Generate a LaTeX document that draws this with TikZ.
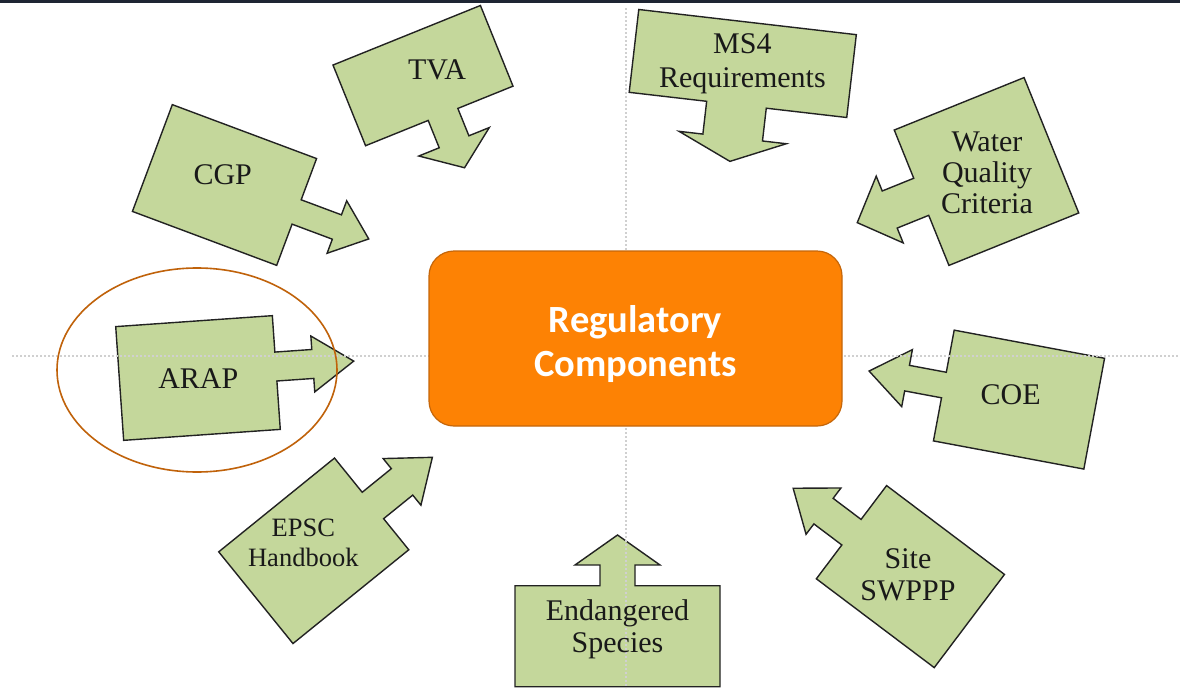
\documentclass[tikz,border=0pt]{standalone}
\usepackage{fontspec}
\setmainfont{Liberation Serif}
\newfontfamily\calib{Carlito}
\definecolor{boxgreen}{HTML}{C4D79B}
\definecolor{edgedark}{HTML}{222222}
\definecolor{orangefill}{HTML}{FD8204}
\definecolor{orangeedge}{HTML}{C5660A}
\definecolor{ringbrown}{HTML}{C0620A}
\definecolor{topbar}{HTML}{1E2533}
\definecolor{guidegray}{HTML}{D0D0D0}
\tikzset{
  greenbox/.style={draw=edgedark, fill=boxgreen, line width=1.4pt, line join=miter},
  lbl/.style={inner sep=0pt, align=center, text=black!90, font=\fontsize{30}{32}\selectfont},
  guide/.style={draw=guidegray, line width=1.6pt, dash pattern=on 2pt off 2pt},
}
% #1 W (along arrow), #2 H, #3 shaft half width, #4 shaft length, #5 head half width, #6 head length, #7 lateral offset
\newcommand\calloutpath[7]{%
  \draw[greenbox] ({-#1/2},{-#2/2}) -- ({#1/2},{-#2/2}) -- ({#1/2},{#7-#3}) -- ({#1/2+#4},{#7-#3})
    -- ({#1/2+#4},{#7-#5}) -- ({#1/2+#4+#6},{#7}) -- ({#1/2+#4},{#7+#5}) -- ({#1/2+#4},{#7+#3})
    -- ({#1/2},{#7+#3}) -- ({#1/2},{#2/2}) -- ({-#1/2},{#2/2}) -- cycle;}
\begin{document}
\begin{tikzpicture}[x=1pt,y=-1pt]
\useasboundingbox (0,0) rectangle (1180,688);
\fill[white] (0,0) rectangle (1180,688);
\fill[topbar] (0,0) rectangle (1180,3);

% green callouts
\begin{scope}[shift={(224.5,185)},rotate=-20.5]\calloutpath{154}{114}{13}{43}{28}{34}{0}\end{scope}
\begin{scope}[shift={(423,75.6)},rotate=-68]\calloutpath{87}{159}{16}{29.5}{38}{28}{-4}\end{scope}
\begin{scope}[shift={(198,378)},rotate=4]\calloutpath{157}{114}{14.5}{37}{28}{41}{-6}\end{scope}
\begin{scope}[shift={(313.75,550.8)},rotate=39]\calloutpath{149}{118}{17}{37.5}{30}{39}{2}\end{scope}
\begin{scope}[shift={(617.5,636.2)},rotate=90]\calloutpath{101}{205}{17.5}{20.7}{42.5}{30}{0}\end{scope}
\begin{scope}[shift={(742.75,63.5)},rotate=-96.6]\calloutpath{83.4}{219}{30}{33}{54}{24}{1.5}\end{scope}
\begin{scope}[shift={(986.5,171.5)},rotate=-158]\calloutpath{140}{146}{20}{34}{36}{35}{1}\end{scope}
\begin{scope}[shift={(1019,399.6)},rotate=-190.6]\calloutpath{153}{112.7}{13}{37.5}{29}{38.6}{0.5}\end{scope}
\begin{scope}[shift={(910.4,576.6)},rotate=-217]\calloutpath{147.6}{116.7}{16}{35}{29}{38}{0}\end{scope}

% guide lines
\draw[guide] (12,356) -- (1180,356);
\draw[guide] (626,8) -- (626,688);

% labels
\node[lbl] (tva) at (437,70) {TVA};
\node[lbl] (cgp) at (222.7,175) {CGP};
\node[lbl] (arap) at (198.3,378.3) {ARAP};
\node[lbl, font=\fontsize{26.5}{30}\selectfont] (epsc) at (303.3,543.3) {EPSC\\Handbook};
\node[lbl] (endsp) at (617.5,629) {Endangered\\Species};
\node[lbl, font=\fontsize{30}{34}\selectfont] (ms4) at (742.4,64) {MS4\\Requirements};
\node[lbl, font=\fontsize{30}{31}\selectfont] (wqc) at (987,173) {Water\\Quality\\Criteria};
\node[lbl] (coe) at (1010.7,395) {COE};
\node[lbl] (swppp) at (908,575) {Site\\SWPPP};

% centre box
\node[draw=orangeedge, fill=orangefill, line width=1.2pt, rounded corners=25pt,
      minimum width=413pt, minimum height=175pt, inner sep=0pt] (reg) at (635.5,338.5) {};
\node[text=white, align=center, inner sep=0pt, font=\calib\bfseries\fontsize{38.5}{44}\selectfont] (regtxt) at (635.5,344) {Regulatory\\Components};

% highlight ring
\draw[ringbrown, line width=1.6pt] (197,370) ellipse [x radius=140, y radius=102];
\end{tikzpicture}
\end{document}
